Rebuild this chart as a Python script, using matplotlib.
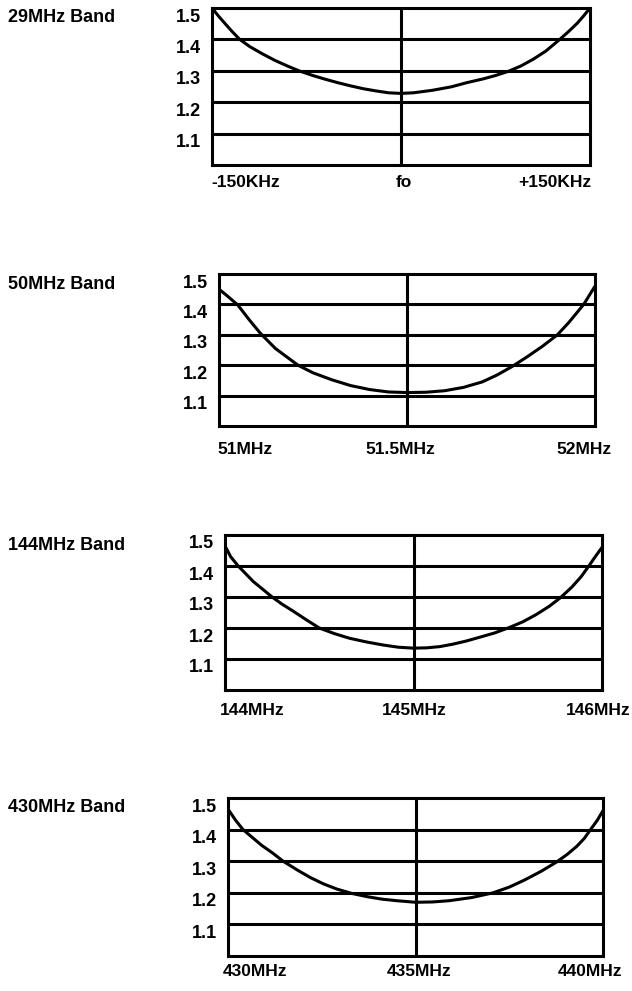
import matplotlib
matplotlib.use('Agg')
import matplotlib.pyplot as plt
from matplotlib.transforms import ScaledTranslation, blended_transform_factory

plt.rcParams['font.family'] = ['Liberation Sans', 'DejaVu Sans']
plt.rcParams['font.weight'] = 'bold'

# --- data ---
band_names = ['29MHz Band', '50MHz Band', '144MHz Band', '430MHz Band']
swr_ticks = [1.1, 1.2, 1.3, 1.4, 1.5]
swr_labels = ['1.1', '1.2', '1.3', '1.4', '1.5']

b29_x = [-150, -145, -140, -134, -128, -120, -110, -100, -90, -81, -70, -60, -50, -40, -30, -20, -10,
         0, 10, 25, 40, 52, 65, 75, 85, 95, 105, 115, 126, 133, 140, 145, 150]
b29_swr = [1.50, 1.475, 1.452, 1.425, 1.40, 1.377, 1.354, 1.333, 1.315, 1.30, 1.285, 1.273, 1.262,
           1.252, 1.243, 1.236, 1.23, 1.228, 1.23, 1.238, 1.249, 1.262, 1.274, 1.285, 1.298, 1.315,
           1.337, 1.363, 1.40, 1.425, 1.452, 1.475, 1.50]
b29_xticks = [-150, 0, 150]
b29_xlabels = ['-150KHz', 'fo', '+150KHz']

b50_x = [51.0, 51.01, 51.02, 51.035, 51.05, 51.08, 51.11, 51.15, 51.21, 51.25, 51.3, 51.35, 51.4,
         51.45, 51.5, 51.55, 51.6, 51.65, 51.7, 51.74, 51.78, 51.82, 51.86, 51.9, 51.93, 51.97,
         51.99, 52.0]
b50_swr = [1.45, 1.44, 1.43, 1.414, 1.398, 1.35, 1.305, 1.255, 1.20, 1.175, 1.152, 1.133, 1.12,
           1.112, 1.11, 1.111, 1.116, 1.127, 1.145, 1.168, 1.196, 1.228, 1.262, 1.30, 1.34, 1.40,
           1.44, 1.46]
b50_xticks = [51.0, 51.5, 52.0]
b50_xlabels = ['51MHz', '51.5MHz', '52MHz']

b144_x = [144.0, 144.03, 144.07, 144.11, 144.15, 144.2, 144.25, 144.3, 144.36, 144.43, 144.5,
          144.58, 144.66, 144.75, 144.84, 144.92, 145.0, 145.07, 145.14, 145.21, 145.28, 145.35,
          145.43, 145.51, 145.58, 145.65, 145.72, 145.78, 145.84, 145.89, 145.93, 145.97, 146.0]
b144_swr = [1.465, 1.43, 1.40, 1.375, 1.35, 1.325, 1.30, 1.278, 1.255, 1.227, 1.20, 1.182, 1.167,
            1.155, 1.145, 1.138, 1.135, 1.136, 1.14, 1.148, 1.158, 1.17, 1.184, 1.202, 1.22, 1.243,
            1.27, 1.298, 1.332, 1.366, 1.40, 1.435, 1.46]
b144_xticks = [144.0, 145.0, 146.0]
b144_xlabels = ['144MHz', '145MHz', '146MHz']

b430_x = [430.0, 430.2, 430.4, 430.65, 430.9, 431.2, 431.47, 431.85, 432.2, 432.55, 432.9, 433.3,
          433.7, 434.1, 434.5, 435.0, 435.45, 435.9, 436.5, 437.07, 437.5, 437.9, 438.35, 438.77,
          439.05, 439.3, 439.5, 439.65, 439.85, 440.0]
b430_swr = [1.465, 1.43, 1.40, 1.375, 1.35, 1.325, 1.30, 1.272, 1.248, 1.228, 1.212, 1.198, 1.188,
            1.18, 1.175, 1.17, 1.171, 1.175, 1.185, 1.20, 1.218, 1.24, 1.268, 1.298, 1.322, 1.347,
            1.372, 1.397, 1.43, 1.46]
b430_xticks = [430.0, 435.0, 440.0]
b430_xlabels = ['430MHz', '435MHz', '440MHz']

bands = [
    (b29_x, b29_swr, b29_xticks, b29_xlabels),
    (b50_x, b50_swr, b50_xticks, b50_xlabels),
    (b144_x, b144_swr, b144_xticks, b144_xlabels),
    (b430_x, b430_swr, b430_xticks, b430_xlabels),
]

# --- layout (pixels in a 632x991 image) ---
W, H = 632, 991
boxes = [(212, 590, 8, 165), (219, 595, 274, 426), (225, 602, 535, 690), (228, 603, 798, 956)]
xlab_dx = [(34, 3, -35), (26, -7, -11), (27, 1, -4), (27, 4, -13)]
xlab_pad = [7.5, 11.5, 9.5, 6.0]

fig = plt.figure(figsize=(W / 100, H / 100), dpi=100)
fig.patch.set_facecolor('white')

lw = 2.2
for i, (xs, ys, xt, xl) in enumerate(bands):
    left, right, top, bottom = boxes[i]
    ax = fig.add_axes([left / W, 1 - bottom / H, (right - left) / W, (bottom - top) / H])
    ax.plot(xs, ys, color='black', lw=lw, solid_capstyle='round', solid_joinstyle='round')
    ax.set_xlim(xt[0], xt[-1])
    ax.set_ylim(1.0, 1.5)

    # grid: horizontal SWR lines and the centre frequency line
    for t in swr_ticks[:-1]:
        ax.axhline(t, color='black', lw=lw)
    ax.axvline(xt[1], color='black', lw=lw)
    for s in ax.spines.values():
        s.set_linewidth(lw)

    ax.set_yticks(swr_ticks)
    ax.set_yticklabels(swr_labels, fontsize=13, fontweight='bold')
    ax.set_xticks(xt)
    ax.set_xticklabels(xl, fontsize=12.5, fontweight='bold')
    ax.tick_params(axis='both', length=0)
    ax.tick_params(axis='y', pad=8)
    ax.tick_params(axis='x', pad=xlab_pad[i])

    for lab in ax.get_yticklabels():
        lab.set_transform(lab.get_transform() + ScaledTranslation(0, -7 / 100, fig.dpi_scale_trans))
    for lab, dx in zip(ax.get_xticklabels(), xlab_dx[i]):
        lab.set_transform(lab.get_transform() + ScaledTranslation(dx / 100, 0, fig.dpi_scale_trans))

    trans = blended_transform_factory(fig.transFigure, ax.transData)
    ax.text(8 / W, 1.5, band_names[i], transform=trans, ha='left', va='center',
            fontsize=13, fontweight='bold')
    ax.texts[-1].set_transform(trans + ScaledTranslation(0, -10 / 100, fig.dpi_scale_trans))

fig.savefig('out.png', dpi=100, facecolor='white')
